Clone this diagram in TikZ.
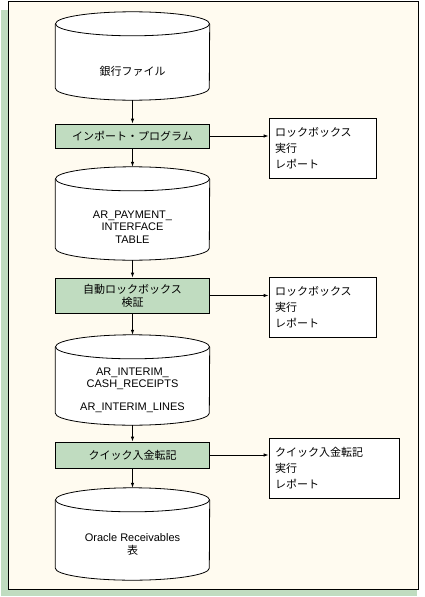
\documentclass[tikz,border=0pt]{standalone}
\usepackage{fontspec}
\setmainfont{Liberation Sans}
\newfontfamily\jp{Noto Sans CJK JP}
\usetikzlibrary{arrows.meta,calc}
\definecolor{boxgreen}{RGB}{192,220,192}
\definecolor{cream}{RGB}{255,251,240}
\newcommand\drawcyl[1]{%
 \fill[white] ($(#1.north west)+(0,-12)$) -- ($(#1.south west)+(0,12)$) arc (180:360:77 and 12) -- ($(#1.north east)+(0,-12)$) arc (0:180:77 and 12) -- cycle;
 \draw[line width=0.8pt] ($(#1.north west)+(0,-12)$) -- ($(#1.south west)+(0,12)$) arc (180:360:77 and 12) -- ($(#1.north east)+(0,-12)$);
 \draw[line width=0.8pt] ($(#1.north)+(0,-12)$) ellipse (77 and 12);
}
\begin{document}
\begin{tikzpicture}[x=1pt,y=1pt,
  cylbox/.style={minimum width=154pt,inner sep=0pt,draw=none},
  lbl/.style={align=center,inner sep=0pt,font=\fontsize{11}{12.5}\selectfont},
  prog/.style={draw,fill=boxgreen,minimum width=154pt,inner sep=0pt,align=center,font=\jp\fontsize{11}{13}\selectfont,line width=0.8pt},
  rep/.style={draw,fill=white,inner xsep=6pt,inner ysep=0pt,align=left,minimum height=60pt,font=\jp\fontsize{11}{16}\selectfont,line width=0.8pt},
  arr/.style={-{Latex[length=5pt,width=3.5pt]},line width=0.8pt}]
\useasboundingbox (0,0) rectangle (424,-597);
\fill[white] (0,0) rectangle (424,-597);
\fill[boxgreen] (1,-10) rectangle (417,-596);
\draw[fill=cream,line width=0.8pt] (8.5,-1.5) rectangle (418,-589);

% cylinders
\node[cylbox,minimum height=88pt] (c1) at (132.5,-56) {};
\node[cylbox,minimum height=93pt] (c2) at (132.5,-213.5) {};
\node[cylbox,minimum height=90pt] (c3) at (132.5,-380) {};
\node[cylbox,minimum height=92pt] (c4) at (132.5,-534) {};
\drawcyl{c1}\drawcyl{c2}\drawcyl{c3}\drawcyl{c4}
\node[lbl] (t1) at (132.5,-71) {\jp 銀行ファイル};
\node[lbl] (t2) at (132.5,-227) {AR\_PAYMENT\_\\INTERFACE\\TABLE};
\node[lbl] (t3) at (132.5,-390) {AR\_INTERIM\_\\CASH\_RECEIPTS\\[10pt]AR\_INTERIM\_LINES};
\node[lbl] (t4) at (132.5,-544.5) {Oracle Receivables\\{\jp 表}};

% program boxes
\node[prog,minimum height=24pt] (b1) at (132.5,-136) {インポート・プログラム};
\node[prog,minimum height=35pt] (b2) at (132.5,-295.5) {自動ロックボックス\\検証};
\node[prog,minimum height=26pt] (b3) at (132.5,-455) {クイック入金転記};

% report boxes
\node[rep,text width=95pt] (r1) at (322.5,-148) {ロックボックス\\実行\\レポート};
\node[rep,text width=95pt] (r2) at (322.5,-307.5) {ロックボックス\\実行\\レポート};
\node[rep,text width=118pt] (r3) at (334,-468) {クイック入金転記\\実行\\レポート};

% connectors
\draw[arr] (c1.south) -- (b1.north);
\draw[arr] (b1.south) -- (c2.north);
\draw[arr] (c2.south) -- (b2.north);
\draw[arr] (b2.south) -- (c3.north);
\draw[arr] (c3.south) -- (b3.north);
\draw[arr] (b3.south) -- (c4.north);
\draw[arr] (b1.east) -- (b1.east -| r1.west);
\draw[arr] (b2.east) -- (b2.east -| r2.west);
\draw[arr] (b3.east) -- (b3.east -| r3.west);
\end{tikzpicture}
\end{document}
